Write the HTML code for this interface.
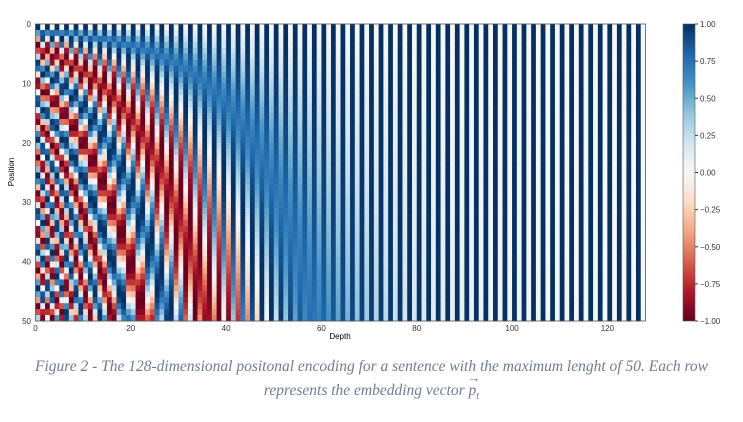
<!DOCTYPE html>
<html><head><meta charset="utf-8">
<style>
body{margin:0;background:#fff;width:743px;height:422px;overflow:hidden;font-family:"Liberation Sans",sans-serif}
#cap{position:absolute;left:0;top:355px;width:743px;text-align:center;font-family:"Liberation Serif",serif;font-style:italic;font-size:15.5px;color:#6e7d92;line-height:24px}
</style></head><body>
<svg id="chart" width="743" height="350" style="position:absolute;left:0;top:0">
<g id="cells"></g>
<rect x="35.5" y="24" width="610" height="297" fill="none" stroke="#555" stroke-width="0.8"/>
<g id="xticks" font-size="8" fill="#333"></g>
<g id="yticks" font-size="8" fill="#333"></g>
<text x="340" y="339" font-size="8" text-anchor="middle">Depth</text>
<text x="14" y="172" font-size="8" text-anchor="middle" transform="rotate(-90 14 172)">Position</text>
<defs><linearGradient id="cbg" x1="0" y1="1" x2="0" y2="0"></linearGradient></defs>
<rect x="683" y="24" width="12" height="297" fill="url(#cbg)" stroke="#555" stroke-width="0.6"/>
<g id="cbticks" font-size="8" fill="#333"></g>
</svg>
<div id="cap">Figure 2 - The 128-dimensional positonal encoding for a sentence with the maximum lenght of 50. Each row<br>represents the embedding vector <span style="position:relative;display:inline-block">p<sub style="font-size:10px">t</sub><span style="position:absolute;left:-1px;top:-13px;font-style:normal;font-size:13px">→</span></span></div>
<script>
const positions = Array.from({length:50},(_,i)=>i);
const depths = Array.from({length:128},(_,i)=>i);
const xTickLabels = [0,20,40,60,80,100,120];
const yTickLabels = [0,10,20,30,40,50];
const cbTickLabels = [1.00,0.75,0.50,0.25,0.00,-0.25,-0.50,-0.75,-1.00];
const values = positions.map(p=>depths.map(d=>{const i=Math.floor(d/2);const a=p/Math.pow(10000,2*i/128);return d%2===0?Math.cos(a):Math.sin(a);}));
const X0=35.5,X1=645.5,Y0=24,Y1=321;
const xs=v=>X0+v*(X1-X0)/128, ys=v=>Y0+v*(Y1-Y0)/50;
const stops=[[103,0,31],[178,24,43],[214,96,77],[244,165,130],[253,219,199],[247,247,247],[209,229,240],[146,197,222],[67,147,195],[33,102,172],[5,48,97]];
function col(v){let t=(v+1)/2*10;t=Math.max(0,Math.min(10,t));const i=Math.min(9,Math.floor(t)),f=t-i;const a=stops[i],b=stops[i+1];return `rgb(${a.map((c,k)=>Math.round(c+(b[k]-c)*f)).join(',')})`;}
const NS='http://www.w3.org/2000/svg';
const g=document.getElementById('cells');
positions.forEach((p,pi)=>depths.forEach((d,di)=>{
 const r=document.createElementNS(NS,'rect');
 
 
 r.setAttribute('x',xs(d));r.setAttribute('y',ys(p));
 r.setAttribute('width',xs(d+1)-xs(d)+0.3);r.setAttribute('height',ys(p+1)-ys(p)+0.3);
 r.setAttribute('fill',col(values[pi][di]));g.appendChild(r);}));
const xt=document.getElementById('xticks');
xTickLabels.forEach(v=>{const t=document.createElementNS(NS,'text');
 
 
 t.setAttribute('x',xs(v));t.setAttribute('y',331);t.setAttribute('text-anchor','middle');t.textContent=v;xt.appendChild(t);});
const yt=document.getElementById('yticks');
yTickLabels.forEach(v=>{const t=document.createElementNS(NS,'text');
 
 
 t.setAttribute('x',31);t.setAttribute('y',ys(v)+3);t.setAttribute('text-anchor','end');t.textContent=v;yt.appendChild(t);});
const gr=document.getElementById('cbg');
stops.forEach((s,i)=>{const st=document.createElementNS(NS,'stop');st.setAttribute('offset',i/10);st.setAttribute('stop-color',`rgb(${s.join(',')})`);gr.appendChild(st);});
const cb=document.getElementById('cbticks');
cbTickLabels.forEach(v=>{const y=Y0+(1-v)/2*(Y1-Y0);
 const l=document.createElementNS(NS,'line');
 
 
 l.setAttribute('x1',695);l.setAttribute('x2',698);l.setAttribute('y1',y);l.setAttribute('y2',y);l.setAttribute('stroke','#333');cb.appendChild(l);
 const t=document.createElementNS(NS,'text');
 
 
 t.setAttribute('x',700);t.setAttribute('y',y+3);t.textContent=v<0?'\u2212'+Math.abs(v).toFixed(2):v.toFixed(2);cb.appendChild(t);});
</script>
</body></html>
